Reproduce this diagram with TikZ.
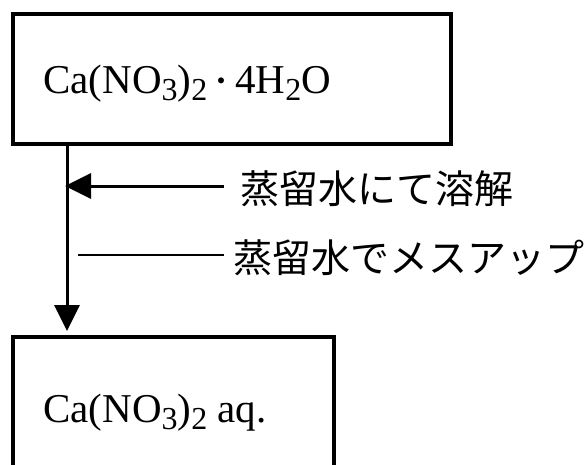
\documentclass[tikz,border=0pt]{standalone}
\usepackage{fontspec}
\setmainfont{Liberation Serif}
\newfontfamily\cjk{Noto Sans CJK JP}
\usetikzlibrary{arrows.meta}
\newcommand\chsub[1]{\raisebox{-7pt}{\fontsize{32pt}{32pt}\selectfont #1}}
\newcommand\chdot{\makebox[28pt]{\raisebox{2pt}{\fontsize{28pt}{28pt}\selectfont\cjk ・}}}
\begin{document}
\begin{tikzpicture}[x=1pt,y=-1pt,
  box/.style={draw, line width=4pt, inner sep=0pt},
  formula/.style={anchor=base west, inner sep=0pt, font=\fontsize{41pt}{49pt}\selectfont},
  label/.style={anchor=base west, inner sep=0pt, font=\fontsize{39pt}{47pt}\selectfont\cjk},
  flow/.style={line width=3pt, -{Triangle[length=26pt,width=25pt]}},
  thinline/.style={line width=1.5pt}]
\path[use as bounding box, clip] (0,0) rectangle (584,464);
\fill[white] (0,0) rectangle (584,464);
\node[box, minimum width=438pt, minimum height=130pt] (top) at (232,79) {};
\node[box, minimum width=321pt, minimum height=163pt] (bot) at (173.5,418.5) {};
\node[formula] (f1) at (43,93) {Ca(NO\chsub{3})\chsub{2}\chdot 4H\chsub{2}O};
\node[formula] (f2) at (43,422) {Ca(NO\chsub{3})\chsub{2} aq.};
\node[label] (t1) at (240,203) {蒸留水にて溶解};
\node[label] (t2) at (233,272) {蒸留水でメスアップ};
\coordinate (vx) at (67,0);
\coordinate (a1) at (224,186);
\coordinate (a2) at (224,255);
\draw[flow, shorten >=4pt] (top.south -| vx) -- (bot.north -| vx);
\draw[flow, shorten >=-2pt] (a1) -- (a1 -| vx);
\draw[thinline, shorten >=11pt] (a2) -- (a2 -| vx);
\end{tikzpicture}
\end{document}
